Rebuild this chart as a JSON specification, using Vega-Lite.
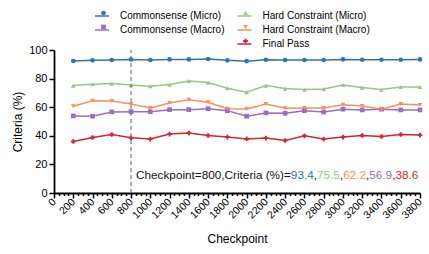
{
  "$schema": "https://vega.github.io/schema/vega-lite/v6.json",
  "width": 366,
  "height": 143,
  "autosize": {"type": "none"},
  "padding": {"left": 54, "top": 50, "right": 9, "bottom": 61},
  "background": "white",
  "config": {
    "view": {"stroke": null},
    "font": "Liberation Sans",
    "axis": {"domainColor": "black", "domainWidth": 1.8, "tickColor": "black", "tickWidth": 1.5, "labelColor": "black", "titleColor": "black", "labelFont": "Liberation Sans", "titleFont": "Liberation Sans", "titleFontWeight": "normal", "grid": false},
    "legend": {"labelFont": "Liberation Sans", "labelColor": "black"}
  },
  "datasets": {
    "d": [
      {"c": 200, "Commonsense (Micro)": 92.3, "Commonsense (Macro)": 53.9, "Hard Constraint (Micro)": 75.1, "Hard Constraint (Macro)": 60.6, "Final Pass": 36.0},
      {"c": 400, "Commonsense (Micro)": 92.8, "Commonsense (Macro)": 53.7, "Hard Constraint (Micro)": 76.0, "Hard Constraint (Macro)": 64.5, "Final Pass": 38.8},
      {"c": 600, "Commonsense (Micro)": 93.0, "Commonsense (Macro)": 56.7, "Hard Constraint (Micro)": 76.5, "Hard Constraint (Macro)": 64.3, "Final Pass": 40.9},
      {"c": 800, "Commonsense (Micro)": 93.4, "Commonsense (Macro)": 56.9, "Hard Constraint (Micro)": 75.5, "Hard Constraint (Macro)": 62.2, "Final Pass": 38.6},
      {"c": 1000, "Commonsense (Micro)": 93.0, "Commonsense (Macro)": 56.9, "Hard Constraint (Micro)": 74.6, "Hard Constraint (Macro)": 59.4, "Final Pass": 37.7},
      {"c": 1200, "Commonsense (Micro)": 93.4, "Commonsense (Macro)": 58.3, "Hard Constraint (Micro)": 75.8, "Hard Constraint (Macro)": 62.9, "Final Pass": 41.2},
      {"c": 1400, "Commonsense (Micro)": 93.4, "Commonsense (Macro)": 58.3, "Hard Constraint (Micro)": 78.3, "Hard Constraint (Macro)": 65.2, "Final Pass": 41.9},
      {"c": 1600, "Commonsense (Micro)": 93.7, "Commonsense (Macro)": 59.0, "Hard Constraint (Micro)": 77.2, "Hard Constraint (Macro)": 63.4, "Final Pass": 40.2},
      {"c": 1800, "Commonsense (Micro)": 92.8, "Commonsense (Macro)": 57.6, "Hard Constraint (Micro)": 73.2, "Hard Constraint (Macro)": 58.9, "Final Pass": 39.1},
      {"c": 2000, "Commonsense (Micro)": 92.2, "Commonsense (Macro)": 53.7, "Hard Constraint (Micro)": 70.4, "Hard Constraint (Macro)": 58.7, "Final Pass": 37.8},
      {"c": 2200, "Commonsense (Micro)": 93.2, "Commonsense (Macro)": 56.0, "Hard Constraint (Micro)": 75.1, "Hard Constraint (Macro)": 62.2, "Final Pass": 38.4},
      {"c": 2400, "Commonsense (Micro)": 93.0, "Commonsense (Macro)": 55.8, "Hard Constraint (Micro)": 73.0, "Hard Constraint (Macro)": 59.2, "Final Pass": 36.7},
      {"c": 2600, "Commonsense (Micro)": 93.0, "Commonsense (Macro)": 57.6, "Hard Constraint (Micro)": 72.3, "Hard Constraint (Macro)": 59.4, "Final Pass": 40.0},
      {"c": 2800, "Commonsense (Micro)": 93.0, "Commonsense (Macro)": 56.7, "Hard Constraint (Micro)": 72.7, "Hard Constraint (Macro)": 59.4, "Final Pass": 37.7},
      {"c": 3000, "Commonsense (Micro)": 93.4, "Commonsense (Macro)": 58.6, "Hard Constraint (Micro)": 75.5, "Hard Constraint (Macro)": 61.7, "Final Pass": 39.1},
      {"c": 3200, "Commonsense (Micro)": 93.2, "Commonsense (Macro)": 58.1, "Hard Constraint (Micro)": 73.7, "Hard Constraint (Macro)": 60.8, "Final Pass": 40.2},
      {"c": 3400, "Commonsense (Micro)": 93.2, "Commonsense (Macro)": 58.6, "Hard Constraint (Micro)": 72.3, "Hard Constraint (Macro)": 58.5, "Final Pass": 39.5},
      {"c": 3600, "Commonsense (Micro)": 93.2, "Commonsense (Macro)": 58.1, "Hard Constraint (Micro)": 74.1, "Hard Constraint (Macro)": 62.2, "Final Pass": 40.9},
      {"c": 3800, "Commonsense (Micro)": 93.4, "Commonsense (Macro)": 58.1, "Hard Constraint (Micro)": 74.1, "Hard Constraint (Macro)": 61.5, "Final Pass": 40.5}
    ]
  },
  "encoding": {
    "x": {
      "field": "c", "type": "quantitative",
      "scale": {"domain": [0, 3800], "nice": false, "zero": false},
      "axis": {
        "title": "Checkpoint", "titleFontSize": 12, "titlePadding": 13,
        "values": [0,50,100,150,200,250,300,350,400,450,500,550,600,650,700,750,800,850,900,950,1000,1050,1100,1150,1200,1250,1300,1350,1400,1450,1500,1550,1600,1650,1700,1750,1800,1850,1900,1950,2000,2050,2100,2150,2200,2250,2300,2350,2400,2450,2500,2550,2600,2650,2700,2750,2800,2850,2900,2950,3000,3050,3100,3150,3200,3250,3300,3350,3400,3450,3500,3550,3600,3650,3700,3750,3800],
        "format": "d",
        "labelExpr": "datum.value % 200 === 0 ? datum.label : ''",
        "labelOverlap": false,
        "labelAngle": -45, "labelAlign": "right", "labelBaseline": "middle",
        "labelFontSize": 10.5, "labelPadding": 2,
        "tickSize": {"condition": {"test": "datum.value % 200 === 0", "value": 5}, "value": 2.5}
      }
    },
    "y": {
      "field": "value", "type": "quantitative",
      "scale": {"domain": [0, 100], "nice": false},
      "axis": {"title": "Criteria (%)", "titleFontSize": 12, "values": [0, 20, 40, 60, 80, 100], "labelFontSize": 11, "tickSize": 5, "labelPadding": 2, "titlePadding": 4}
    }
  },
  "layer": [
    {
      "data": {"name": "d"},
      "transform": [{"fold": ["Commonsense (Micro)", "Hard Constraint (Micro)", "Commonsense (Macro)", "Hard Constraint (Macro)", "Final Pass"], "as": ["series", "value"]}],
      "mark": {"type": "line", "strokeWidth": 1.5},
      "encoding": {
        "color": {
          "field": "series", "type": "nominal",
          "scale": {"domain": ["Commonsense (Micro)", "Commonsense (Macro)", "_", "Hard Constraint (Micro)", "Hard Constraint (Macro)", "Final Pass"], "range": ["#2e75b6", "#9b6cc0", "rgba(0,0,0,0)", "#98c58a", "#f4925b", "#d2262c"]},
          "legend": {"orient": "none", "legendX": 40, "legendY": -42, "columns": 2, "title": null, "symbolType": "stroke", "symbolSize": 196, "symbolStrokeWidth": 1.5, "labelFontSize": 10, "labelOffset": 10, "columnPadding": 9.5, "rowPadding": 1, "padding": 0, "labelExpr": "datum.label === '_' ? '' : datum.label"}
        }
      }
    },
    {
      "data": {"name": "d"},
      "transform": [{"fold": ["Commonsense (Micro)", "Hard Constraint (Micro)", "Commonsense (Macro)", "Hard Constraint (Macro)", "Final Pass"], "as": ["series", "value"]}],
      "mark": {"type": "point", "filled": true, "size": 22, "opacity": 1},
      "encoding": {
        "color": {
          "field": "series", "type": "nominal",
          "legend": {"orient": "none", "legendX": 44.5, "legendY": -42, "columns": 2, "title": null, "symbolSize": 22, "labelFontSize": 10, "labelOffset": 18, "columnPadding": 114, "rowPadding": 4, "padding": 0, "labelExpr": "''"}
        },
        "shape": {
          "field": "series", "type": "nominal",
          "scale": {"domain": ["Commonsense (Micro)", "Commonsense (Macro)", "_", "Hard Constraint (Micro)", "Hard Constraint (Macro)", "Final Pass"], "range": ["circle", "square", "circle", "triangle-up", "triangle-down", "cross"]},
          "legend": {"orient": "none", "legendX": 44.5, "legendY": -42, "columns": 2, "title": null, "symbolSize": 22, "labelFontSize": 10, "labelOffset": 18, "columnPadding": 114, "rowPadding": 4, "padding": 0, "labelExpr": "''"}
        }
      }
    },
    {
      "data": {"values": [{"c": 800, "value": 0, "top": 100}]},
      "mark": {"type": "rule", "color": "#7a7a7a", "strokeDash": [4, 3], "strokeWidth": 1.2},
      "encoding": {"y2": {"field": "top"}}
    },
    {
      "data": {"values": [{"c": 800, "value": 12.4}]},
      "layer": [
        {"mark": {"type": "text", "text": "Checkpoint=800,Criteria (%)=", "align": "left", "baseline": "middle", "fontSize": 11.75, "color": "#111", "dx": 5}},
        {"mark": {"type": "text", "text": "93.4", "align": "left", "baseline": "middle", "fontSize": 11.75, "color": "#2e75b6", "dx": 159.8}},
        {"mark": {"type": "text", "text": ",", "align": "left", "baseline": "middle", "fontSize": 11.75, "color": "#111", "dx": 182.7}},
        {"mark": {"type": "text", "text": "75.5", "align": "left", "baseline": "middle", "fontSize": 11.75, "color": "#98c58a", "dx": 185.9}},
        {"mark": {"type": "text", "text": ",", "align": "left", "baseline": "middle", "fontSize": 11.75, "color": "#111", "dx": 208.8}},
        {"mark": {"type": "text", "text": "62.2", "align": "left", "baseline": "middle", "fontSize": 11.75, "color": "#f4925b", "dx": 212.1}},
        {"mark": {"type": "text", "text": ",", "align": "left", "baseline": "middle", "fontSize": 11.75, "color": "#111", "dx": 235.0}},
        {"mark": {"type": "text", "text": "56.9", "align": "left", "baseline": "middle", "fontSize": 11.75, "color": "#9b6cc0", "dx": 238.2}},
        {"mark": {"type": "text", "text": ",", "align": "left", "baseline": "middle", "fontSize": 11.75, "color": "#111", "dx": 261.1}},
        {"mark": {"type": "text", "text": "38.6", "align": "left", "baseline": "middle", "fontSize": 11.75, "color": "#d2262c", "dx": 264.4}}
      ]
    }
  ],
  "resolve": {"legend": {"color": "independent", "shape": "independent"}}
}
